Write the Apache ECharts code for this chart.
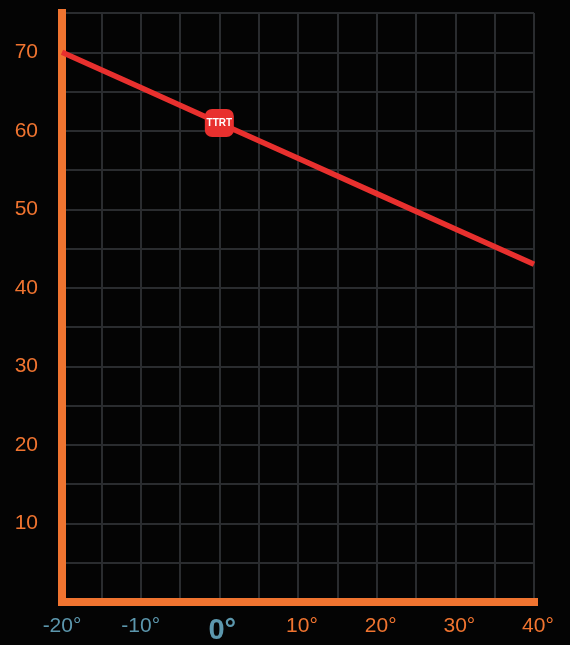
<!DOCTYPE html>
<html><head><meta charset="utf-8">
<script src="https://cdn.jsdelivr.net/npm/echarts@6/dist/echarts.min.js"></script>
<style>html,body{margin:0;padding:0;background:#040404;}#c{width:570px;height:645px;}</style>
</head><body><div id="c"></div>
<script>
const xValues = [-20, -10, 0, 10, 20, 30, 40];
const yValues = [70, 65.5, 61, 56.5, 52, 47.5, 43];
const markerX = 0;
const markerY = 61;
const markerText = 'TTRT';
const xTickValues = [-20, -10, 0, 10, 20, 30, 40];
const yTickValues = [10, 20, 30, 40, 50, 60, 70];

const chart = echarts.init(document.getElementById('c'));
const font = 'Liberation Sans, Arial, Helvetica, sans-serif';
chart.setOption({
  backgroundColor: '#040404',
  animation: false,
  grid: { left: 62, right: 36, top: 13, bottom: 40 },
  xAxis: {
    type: 'value', min: -20, max: 40, interval: 5,
    axisLine: { show: true, onZero: false, lineStyle: { color: '#f07430', width: 8, cap: 'square' } },
    axisTick: { show: false },
    splitLine: { show: true, lineStyle: { color: '#2a2c2f', width: 2 } },
    axisLabel: {
      margin: 14,
      formatter: v => {
        if (!xTickValues.includes(v)) return '';
        if (v === 0) return '{z|' + v + '°}';
        return (v < 0 ? '{n|' : '{p|') + v + '°}';
      },
      rich: {
        n: { color: '#5c97ad', fontSize: 21, fontFamily: font },
        p: { color: '#f07430', fontSize: 21, fontFamily: font, padding: [0, 0, 0, 8] },
        z: { color: '#5c97ad', fontSize: 29, fontWeight: 'bold', fontFamily: font, padding: [0, 0, 0, 6] }
      }
    }
  },
  yAxis: {
    type: 'value', min: 0, max: 75, interval: 5,
    axisLine: { show: true, onZero: false, lineStyle: { color: '#f07430', width: 8, cap: 'square' } },
    axisTick: { show: false },
    splitLine: { show: true, lineStyle: { color: '#2a2c2f', width: 2 } },
    axisLabel: {
      margin: 24,
      color: '#f07430', fontSize: 21, fontFamily: font,
      formatter: v => yTickValues.includes(v) ? String(v) : ''
    }
  },
  series: [{
    type: 'line',
    data: xValues.map((x, i) => [x, yValues[i]]),
    showSymbol: false,
    lineStyle: { color: '#e8302e', width: 5.5 },
    z: 5,
    markPoint: {
      z: 20,
      symbol: 'roundRect',
      symbolSize: [29, 28],
      itemStyle: { color: '#e8302e' },
      label: { show: true, position: 'inside', formatter: markerText, color: '#ffffff', fontSize: 10, fontWeight: 'bold', fontFamily: font },
      data: [{ coord: [markerX, markerY] }]
    }
  }]
});
</script></body></html>
